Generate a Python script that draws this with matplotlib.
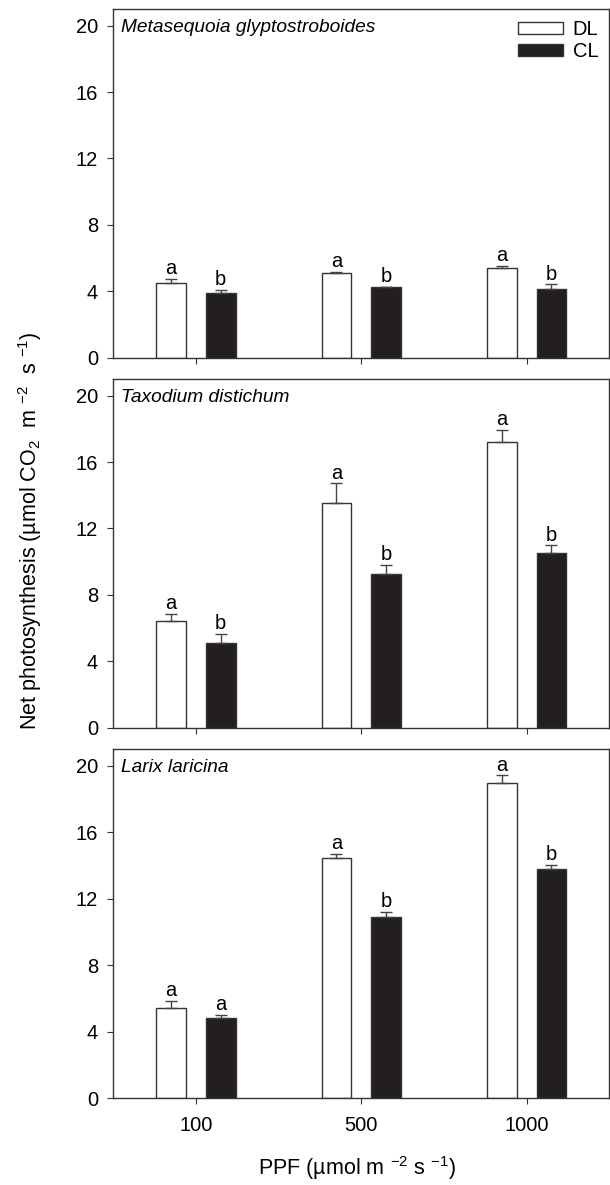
import matplotlib
matplotlib.use("Agg")
import matplotlib.pyplot as plt
import numpy as np
from matplotlib.patches import Patch

plt.rcParams['font.family'] = ['Liberation Sans', 'DejaVu Sans']
plt.rcParams['mathtext.default'] = 'regular'

ppf_labels = ['100', '500', '1000']
species = ['Metasequoia glyptostroboides', 'Taxodium distichum', 'Larix laricina']

dl_mean = [[4.52, 5.08, 5.42], [6.43, 13.54, 17.22], [5.44, 14.48, 19.0]]
dl_err = [[0.24, 0.10, 0.10], [0.44, 1.17, 0.72], [0.42, 0.24, 0.44]]
cl_mean = [[3.88, 4.24, 4.12], [5.11, 9.25, 10.51], [4.84, 10.93, 13.82]]
cl_err = [[0.20, 0.04, 0.30], [0.56, 0.56, 0.48], [0.16, 0.27, 0.23]]
dl_letters = [['a', 'a', 'a'], ['a', 'a', 'a'], ['a', 'a', 'a']]
cl_letters = [['b', 'b', 'b'], ['b', 'b', 'b'], ['a', 'b', 'b']]

W, H = 610, 1185
fig = plt.figure(figsize=(W / 100, H / 100), dpi=100)

panels_px = [(9, 357.7), (379, 727.7), (749.3, 1098)]
left_px, right_px = 113.3, 609.3

edge = '#333333'
black = '#231f20'
fs = 14.5
x = np.arange(len(ppf_labels))
off, bw = 0.15, 0.18

for i, (top, bot) in enumerate(panels_px):
    ax = fig.add_axes([left_px / W, 1 - bot / H, (right_px - left_px) / W, (bot - top) / H])
    ax.bar(x - off, dl_mean[i], bw, color='white', edgecolor=edge, linewidth=1.0, zorder=2)
    ax.bar(x + off, cl_mean[i], bw, color=black, edgecolor=edge, linewidth=1.0, zorder=2)
    ax.errorbar(x - off, dl_mean[i], yerr=[np.zeros(3), dl_err[i]], fmt='none',
                ecolor='#444444', elinewidth=1.0, capsize=4, capthick=1.0, zorder=3)
    ax.errorbar(x + off, cl_mean[i], yerr=[np.zeros(3), cl_err[i]], fmt='none',
                ecolor='#444444', elinewidth=1.0, capsize=4, capthick=1.0, zorder=3)
    for j in range(3):
        ax.annotate(dl_letters[i][j], (x[j] - off, dl_mean[i][j] + dl_err[i][j]),
                    xytext=(0, 0.5), textcoords='offset points', ha='center', va='bottom',
                    fontsize=fs)
        ax.annotate(cl_letters[i][j], (x[j] + off, cl_mean[i][j] + cl_err[i][j]),
                    xytext=(0, 0.5), textcoords='offset points', ha='center', va='bottom',
                    fontsize=fs)
    ax.set_xlim(-0.5, 2.5)
    ax.set_ylim(0, 21)
    ax.set_yticks([0, 4, 8, 12, 16, 20])
    ax.set_xticks(x)
    ax.tick_params(axis='y', direction='out', length=4, width=0.8, pad=7,
                   labelsize=fs, color=edge)
    ax.tick_params(axis='x', direction='out', length=4, width=0.8, pad=9,
                   labelsize=fs, color=edge)
    if i == 2:
        ax.set_xticklabels(ppf_labels)
    else:
        ax.set_xticklabels([])
    for s in ax.spines.values():
        s.set_color(edge)
        s.set_linewidth(1.0)
    ax.text(0.015, 0.972, species[i], transform=ax.transAxes, style='italic',
            fontsize=13.8, ha='left', va='top')
    if i == 0:
        handles = [Patch(facecolor='white', edgecolor=edge, label='DL'),
                   Patch(facecolor=black, edgecolor=edge, label='CL')]
        ax.legend(handles=handles, loc='upper right', frameon=False, fontsize=fs,
                  handlelength=2.2, handleheight=0.5, handletextpad=0.5,
                  labelspacing=0.15, borderaxespad=0.15, bbox_to_anchor=(1.0, 1.0))

fig.text(30 / W, 1 - 531 / H,
         'Net photosynthesis (µmol CO$_2$  m $^{-2}$  s $^{-1}$)',
         rotation=90, ha='center', va='center', fontsize=15.5)
fig.text(357 / W, 1 - 1168 / H, 'PPF (µmol m $^{-2}$ s $^{-1}$)',
         ha='center', va='center', fontsize=15.5)

fig.savefig('out.png', dpi=100)
